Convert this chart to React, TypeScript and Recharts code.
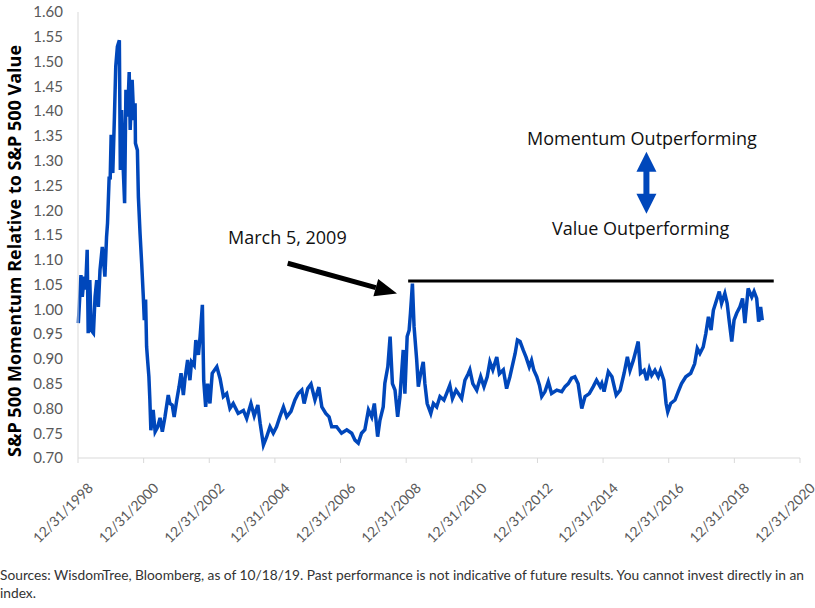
import React from 'react';
import { LineChart, Line, XAxis, YAxis, ReferenceLine } from 'recharts';

// years after 12/31/1998
const years = [
  0.01, 0.09, 0.13, 0.19, 0.23, 0.28, 0.31, 0.36, 0.40, 0.47, 0.52, 0.57, 0.62, 0.67, 0.74, 0.82, 0.87, 0.90,
  0.95, 0.98, 1.01, 1.06, 1.11, 1.15, 1.20, 1.26, 1.29, 1.33, 1.38, 1.42, 1.46, 1.51, 1.56, 1.59, 1.65, 1.70,
  1.74, 1.75, 1.81, 1.84, 1.89, 1.94, 1.99, 2.02, 2.06, 2.09, 2.12, 2.16, 2.19, 2.22, 2.29, 2.35, 2.43, 2.50,
  2.57, 2.65, 2.75, 2.80, 2.87, 2.93, 3.01, 3.08, 3.14, 3.21, 3.26, 3.34, 3.41, 3.46, 3.54, 3.59, 3.67, 3.72,
  3.79, 3.83, 3.89, 3.95, 4.02, 4.09, 4.23, 4.33, 4.43, 4.53, 4.63, 4.73, 4.88, 5.04, 5.14, 5.27, 5.37, 5.48,
  5.55, 5.65, 5.75, 5.85, 5.95, 6.05, 6.15, 6.26, 6.36, 6.49, 6.61, 6.71, 6.82, 6.89, 7.00, 7.10, 7.22, 7.34,
  7.43, 7.55, 7.65, 7.73, 7.88, 8.03, 8.19, 8.34, 8.44, 8.54, 8.64, 8.74, 8.85, 8.95, 9.03, 9.13, 9.20, 9.30,
  9.35, 9.44, 9.51, 9.58, 9.66, 9.74, 9.81, 9.91, 9.96, 10.03, 10.09, 10.13, 10.19, 10.24, 10.32, 10.37, 10.44,
  10.52, 10.57, 10.64, 10.75, 10.83, 10.93, 11.03, 11.15, 11.23, 11.33, 11.41, 11.52, 11.62, 11.69, 11.79,
  11.89, 11.94, 12.03, 12.15, 12.27, 12.37, 12.47, 12.55, 12.64, 12.76, 12.84, 12.96, 13.06, 13.16, 13.32,
  13.39, 13.47, 13.57, 13.65, 13.75, 13.82, 13.89, 13.98, 14.06, 14.13, 14.23, 14.33, 14.43, 14.59, 14.74,
  14.84, 14.94, 15.04, 15.14, 15.24, 15.35, 15.45, 15.58, 15.70, 15.80, 15.91, 15.96, 16.03, 16.16, 16.27,
  16.40, 16.52, 16.64, 16.74, 16.82, 16.92, 17.00, 17.07, 17.14, 17.25, 17.33, 17.41, 17.48, 17.58, 17.68,
  17.75, 17.85, 17.92, 17.97, 18.06, 18.19, 18.29, 18.39, 18.52, 18.67, 18.79, 18.87, 18.95, 19.05, 19.13,
  19.21, 19.29, 19.36, 19.44, 19.54, 19.61, 19.71, 19.78, 19.84, 19.92, 19.99, 20.07, 20.17, 20.25, 20.32,
  20.42, 20.53, 20.60, 20.68, 20.74, 20.80, 20.85,
];

const ratio = [
  0.972, 1.069, 1.025, 1.066, 1.040, 1.120, 0.952, 1.059, 0.958, 0.952, 1.025, 1.059, 1.005, 1.079, 1.126, 1.066, 1.146, 1.174,
  1.268, 1.262, 1.352, 1.275, 1.389, 1.490, 1.530, 1.543, 1.281, 1.402, 1.281, 1.214, 1.443, 1.389, 1.479, 1.362, 1.463, 1.382,
  1.416, 1.335, 1.321, 1.227, 1.154, 1.093, 1.025, 0.978, 1.020, 0.925, 0.898, 0.864, 0.817, 0.756, 0.797, 0.753, 0.763, 0.781,
  0.753, 0.783, 0.827, 0.810, 0.807, 0.783, 0.817, 0.844, 0.871, 0.827, 0.860, 0.898, 0.857, 0.894, 0.887, 0.938, 0.908, 0.945,
  1.009, 0.857, 0.803, 0.850, 0.810, 0.871, 0.884, 0.860, 0.824, 0.830, 0.800, 0.810, 0.790, 0.796, 0.780, 0.810, 0.785, 0.807,
  0.770, 0.726, 0.743, 0.763, 0.750, 0.763, 0.783, 0.803, 0.783, 0.794, 0.817, 0.830, 0.837, 0.810, 0.840, 0.849, 0.817, 0.843,
  0.803, 0.790, 0.783, 0.763, 0.763, 0.750, 0.757, 0.750, 0.736, 0.730, 0.750, 0.757, 0.797, 0.783, 0.810, 0.743, 0.776, 0.803,
  0.851, 0.884, 0.945, 0.850, 0.837, 0.783, 0.823, 0.918, 0.830, 0.945, 0.958, 0.992, 1.052, 0.965, 0.898, 0.844, 0.870,
  0.894, 0.850, 0.810, 0.790, 0.810, 0.803, 0.824, 0.817, 0.830, 0.847, 0.820, 0.837, 0.827, 0.820, 0.857,
  0.870, 0.878, 0.850, 0.837, 0.864, 0.844, 0.864, 0.894, 0.878, 0.904, 0.870, 0.878, 0.840, 0.864, 0.911,
  0.938, 0.935, 0.917, 0.904, 0.884, 0.897, 0.877, 0.864, 0.847, 0.824, 0.834, 0.854, 0.830, 0.837, 0.834,
  0.844, 0.850, 0.861, 0.864, 0.850, 0.800, 0.824, 0.830, 0.844, 0.857, 0.844, 0.851, 0.834, 0.874, 0.864,
  0.827, 0.837, 0.871, 0.904, 0.877, 0.897, 0.917, 0.935, 0.871, 0.877, 0.857, 0.880, 0.867, 0.877, 0.864,
  0.877, 0.857, 0.810, 0.793, 0.810, 0.817, 0.834, 0.850, 0.864, 0.871, 0.890, 0.921, 0.911, 0.924, 0.951,
  0.985, 0.958, 0.998, 1.015, 1.036, 1.012, 1.032, 1.012, 0.978, 0.935, 0.978, 0.992, 1.005, 1.022, 0.972,
  1.042, 1.025, 1.036, 1.022, 0.975, 1.005, 0.978,
];

const xTicks = [0, 2, 4, 6, 8, 10, 12, 14, 16, 18, 20, 22];
const yTicks = [0.7, 0.75, 0.8, 0.85, 0.9, 0.95, 1.0, 1.05, 1.1, 1.15, 1.2, 1.25, 1.3, 1.35, 1.4, 1.45, 1.5, 1.55, 1.6];

// March 5, 2009 level carried forward
const peakLevel = 1.057;
const peakSpan = [10.06, 21.2];
// arrow pointing at the March 2009 peak
const pointerFrom = { x: 6.39, y: 1.093 };
const pointerTo = { x: 9.72, y: 1.032 };
// two-way arrow between the captions
const twoWayTop = { x: 17.32, y: 1.318 };
const twoWayBottom = { x: 17.32, y: 1.193 };

const data = years.map((t, i) => ({ t, v: ratio[i] }));

const GREY = '#595959';
const BLUE = '#0047BB';

const XTick = (props: any) => {
  const { x, y, payload } = props;
  const ax = x + 8;
  const ay = y + 16;
  return (
    <text x={ax} y={ay} transform={`rotate(-45, ${ax}, ${ay})`} textAnchor="end" dominantBaseline="hanging"
      fontSize={14} fill={GREY} fontFamily="Lato">
      {`12/31/${1998 + payload.value}`}
    </text>
  );
};

const PointerArrow = (props: any) => {
  const { x1, y1, x2, y2 } = props;
  const dx = x2 - x1, dy = y2 - y1;
  const len = Math.sqrt(dx * dx + dy * dy);
  const ux = dx / len, uy = dy / len;
  const head = 22, half = 9;
  const bx = x2 - ux * head, by = y2 - uy * head;
  return (
    <g>
      <line x1={x1} y1={y1} x2={bx} y2={by} stroke="#000" strokeWidth={5} />
      <polygon points={`${x2},${y2} ${bx - uy * half},${by + ux * half} ${bx + uy * half},${by - ux * half}`} fill="#000" />
    </g>
  );
};

const TwoWayArrow = (props: any) => {
  const { x1, y1, y2 } = props;
  const top = Math.min(y1, y2), bot = Math.max(y1, y2);
  const head = 20, half = 10;
  return (
    <g fill={BLUE}>
      <rect x={x1 - 3} y={top + head - 1} width={6} height={bot - top - 2 * head + 2} />
      <polygon points={`${x1},${top} ${x1 - half},${top + head} ${x1 + half},${top + head}`} />
      <polygon points={`${x1},${bot} ${x1 - half},${bot - head} ${x1 + half},${bot - head}`} />
    </g>
  );
};

const noteStyle: React.CSSProperties = {
  position: 'absolute', fontFamily: '"Open Sans"', fontSize: 18, color: '#111', whiteSpace: 'nowrap', lineHeight: 1,
};

export default function App() {
  return (
    <div style={{ position: 'absolute', left: 0, top: 0, width: 815, height: 608, background: '#fff' }}>
      <LineChart width={815} height={608} data={data} margin={{ top: 12, right: 15, left: 0, bottom: 60 }}
        style={{ overflow: 'visible' }}>
        <XAxis dataKey="t" type="number" domain={[0, 22]} ticks={xTicks} interval={0} height={90}
          axisLine={{ stroke: '#d9d9d9' }} tickLine={{ stroke: '#d9d9d9' }} tickSize={5} tick={<XTick />} />
        <YAxis type="number" domain={[0.7, 1.6]} ticks={yTicks} interval={0} width={78}
          axisLine={{ stroke: '#d9d9d9' }} tickLine={false} tickMargin={9}
          tick={{ fontSize: 15, fill: GREY, fontFamily: 'Lato' }} tickFormatter={(v: number) => v.toFixed(2)} />
        <ReferenceLine segment={[{ x: peakSpan[0], y: peakLevel }, { x: peakSpan[1], y: peakLevel }]}
          stroke="#000" strokeWidth={3} />
        <ReferenceLine segment={[pointerFrom, pointerTo]} shape={PointerArrow} />
        <ReferenceLine segment={[twoWayTop, twoWayBottom]} shape={TwoWayArrow} />
        <Line type="linear" dataKey="v" stroke={BLUE} strokeWidth={3.5} dot={false} isAnimationActive={false} />
      </LineChart>
      <div style={{
        position: 'absolute', left: 14, top: 251, transform: 'translate(-50%, -50%) rotate(-90deg)',
        fontFamily: '"Open Sans"', fontWeight: 700, fontSize: 18, color: '#000', whiteSpace: 'nowrap',
      }}>
        S&amp;P 500 Momentum Relative to S&amp;P 500 Value
      </div>
      <div style={{ ...noteStyle, left: 228, top: 228 }}>March 5, 2009</div>
      <div style={{ ...noteStyle, left: 527, top: 129 }}>Momentum Outperforming</div>
      <div style={{ ...noteStyle, left: 552, top: 219 }}>Value Outperforming</div>
      <div style={{
        position: 'absolute', left: 0, top: 566, width: 815, fontFamily: 'Lato', fontSize: 13.75,
        color: '#333', lineHeight: '18px',
      }}>
        Sources: WisdomTree, Bloomberg, as of 10/18/19. Past performance is not indicative of future results. You cannot invest directly in an
        <br />index.
      </div>
    </div>
  );
}
